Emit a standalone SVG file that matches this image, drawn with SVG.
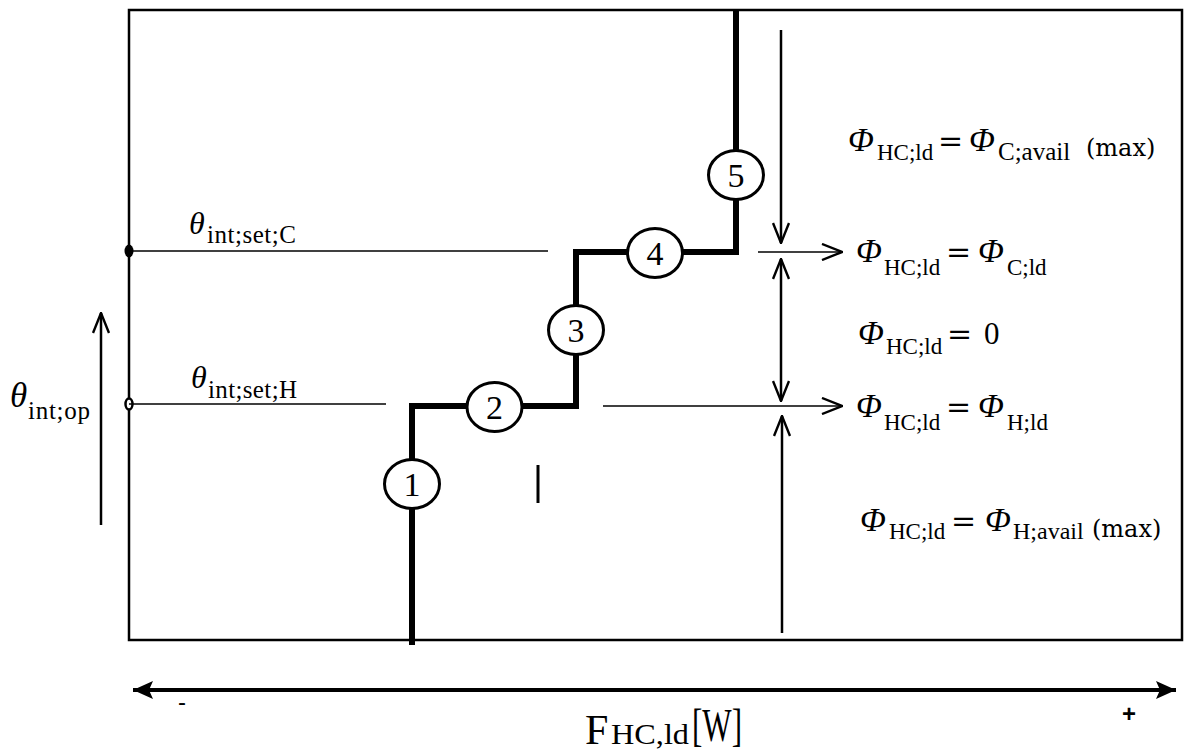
<svg xmlns="http://www.w3.org/2000/svg" width="1184" height="751" viewBox="0 0 1184 751">
<style>
.frame{fill:none;stroke:#000;stroke-width:2.5}
.thin{stroke:#000;stroke-width:1.5;fill:none}
.arr{stroke:#000;stroke-width:2.5;fill:none}
.step{stroke:#000;stroke-width:6;fill:none;stroke-linejoin:miter}
.node ellipse{fill:#fff;stroke:#000;stroke-width:3}
.num{font-family:"Liberation Serif",serif;font-size:34px;text-anchor:middle;fill:#000}
.gr{font-family:"Liberation Serif",serif;font-style:italic;font-size:34px;fill:#000}
.th{font-family:"Liberation Serif",serif;font-style:italic;font-size:32px;fill:#000}
.sub{font-family:"Liberation Serif",serif;font-size:23px;fill:#000}
.sub2{font-family:"Liberation Serif",serif;font-size:25px;fill:#000}
.eq{font-family:"DejaVu Serif",serif;font-size:30px;fill:#000}
.zero{font-family:"Liberation Serif",serif;font-size:31px;fill:#000}
.mx{font-family:"DejaVu Serif",serif;font-size:24px;fill:#000}
.ax{font-family:"Liberation Serif",serif;fill:#000}
.sg{font-family:"Liberation Sans",sans-serif;fill:#000}
</style>
<defs>
<marker id="open" viewBox="0 0 22 18" refX="21" refY="9" markerWidth="22" markerHeight="18" markerUnits="userSpaceOnUse" orient="auto-start-reverse">
<path d="M1,1 L21,9 L1,17" fill="none" stroke="#000" stroke-width="2.4"/>
</marker>
<marker id="solid" viewBox="0 0 20 18" refX="20" refY="9" markerWidth="20" markerHeight="18" markerUnits="userSpaceOnUse" orient="auto-start-reverse">
<path d="M0,0 L20,9 L0,18 L4,9 Z" fill="#000"/>
</marker>
</defs>
<rect x="0" y="0" width="1184" height="751" fill="#fff"/>
<g id="frame">
<rect class="frame" x="129" y="10" width="1053" height="630"/>
<ellipse cx="129" cy="251" rx="4.5" ry="6.5" fill="#000"/>
<ellipse cx="129" cy="404" rx="3.5" ry="5.5" fill="#fff" stroke="#000" stroke-width="2.5"/>
</g>
<g id="connectors">
<line class="thin" x1="129" y1="251" x2="548" y2="251"/>
<line class="thin" x1="129" y1="404" x2="386" y2="404"/>
<line class="thin" x1="758" y1="252" x2="842" y2="252" marker-end="url(#open)"/>
<line class="thin" x1="603" y1="406" x2="842" y2="406" marker-end="url(#open)"/>
<line class="arr" x1="101" y1="525" x2="101" y2="313" marker-end="url(#open)"/>
<line class="arr" x1="781" y1="30" x2="781" y2="243" marker-end="url(#open)"/>
<line class="arr" x1="781" y1="259" x2="781" y2="401" marker-start="url(#open)" marker-end="url(#open)"/>
<line class="arr" x1="782" y1="633" x2="782" y2="416" marker-end="url(#open)"/>
<line x1="133" y1="690" x2="1176" y2="690" stroke="#000" stroke-width="4" marker-start="url(#solid)" marker-end="url(#solid)"/>
<path class="step" d="M412,645 V406 H576 V252 H736 V10"/>
<line x1="538" y1="465" x2="538" y2="503" stroke="#000" stroke-width="3"/>
</g>
<g id="n1" class="node"><ellipse cx="412" cy="484" rx="27.5" ry="24.5"/><text class="num" x="412" y="496">1</text></g>
<g id="n2" class="node"><ellipse cx="494.5" cy="407" rx="27.5" ry="24.5"/><text class="num" x="494.5" y="419">2</text></g>
<g id="n3" class="node"><ellipse cx="576" cy="330" rx="27.5" ry="24.5"/><text class="num" x="576" y="342">3</text></g>
<g id="n4" class="node"><ellipse cx="655" cy="253" rx="27.5" ry="24.5"/><text class="num" x="655" y="265">4</text></g>
<g id="n5" class="node"><ellipse cx="736" cy="175" rx="27.5" ry="24.5"/><text class="num" x="736" y="187">5</text></g>
<g id="labels-left">
<text class="th" x="189" y="234">θ</text><text class="sub2" x="207" y="243" textLength="89" lengthAdjust="spacing">int;set;C</text>
<text class="th" x="191" y="388">θ</text><text class="sub2" x="208" y="398" textLength="89" lengthAdjust="spacing">int;set;H</text>
<text class="th" x="10" y="407" style="font-size:35px">θ</text><text class="sub2" x="28" y="419" textLength="62" lengthAdjust="spacing">int;op</text>
</g>
<g id="labels-right">
<text class="gr" x="848" y="151">Φ</text><text class="sub" x="877" y="160">HC;ld</text><text class="eq" x="938" y="151">=</text><text class="gr" x="969" y="151">Φ</text><text class="sub" x="998" y="160" style="font-size:25px">C;avail</text><text class="mx" x="1086" y="156">(max)</text>
<text class="gr" x="856" y="262">Φ</text><text class="sub" x="884" y="275">HC;ld</text><text class="eq" x="946" y="262">=</text><text class="gr" x="978" y="262">Φ</text><text class="sub" x="1007" y="275">C;ld</text>
<text class="gr" x="858" y="344">Φ</text><text class="sub" x="886" y="354">HC;ld</text><text class="eq" x="947" y="344">=</text><text class="zero" x="984" y="344">0</text>
<text class="gr" x="856" y="417">Φ</text><text class="sub" x="884" y="430">HC;ld</text><text class="eq" x="946" y="417">=</text><text class="gr" x="978" y="417">Φ</text><text class="sub" x="1007" y="430">H;ld</text>
<text class="gr" x="860" y="531">Φ</text><text class="sub" x="889" y="539">HC;ld</text><text class="eq" x="951" y="531">=</text><text class="gr" x="985" y="531">Φ</text><text class="sub" x="1013" y="539" style="font-size:24px">H;avail</text><text class="mx" x="1092" y="537">(max)</text>
</g>
<g id="axis-labels">
<text class="sg" x="178" y="710" style="font-size:24px">-</text>
<text class="sg" x="1122" y="722" style="font-size:24px;font-weight:bold">+</text>
<text class="ax" x="585" y="744" style="font-size:42px">F</text>
<text class="ax" x="611" y="744" style="font-size:29px" textLength="78" lengthAdjust="spacingAndGlyphs">HC,ld</text>
<text class="ax" x="692" y="741" style="font-size:46px" textLength="50" lengthAdjust="spacingAndGlyphs">[W]</text>
</g>
</svg>
